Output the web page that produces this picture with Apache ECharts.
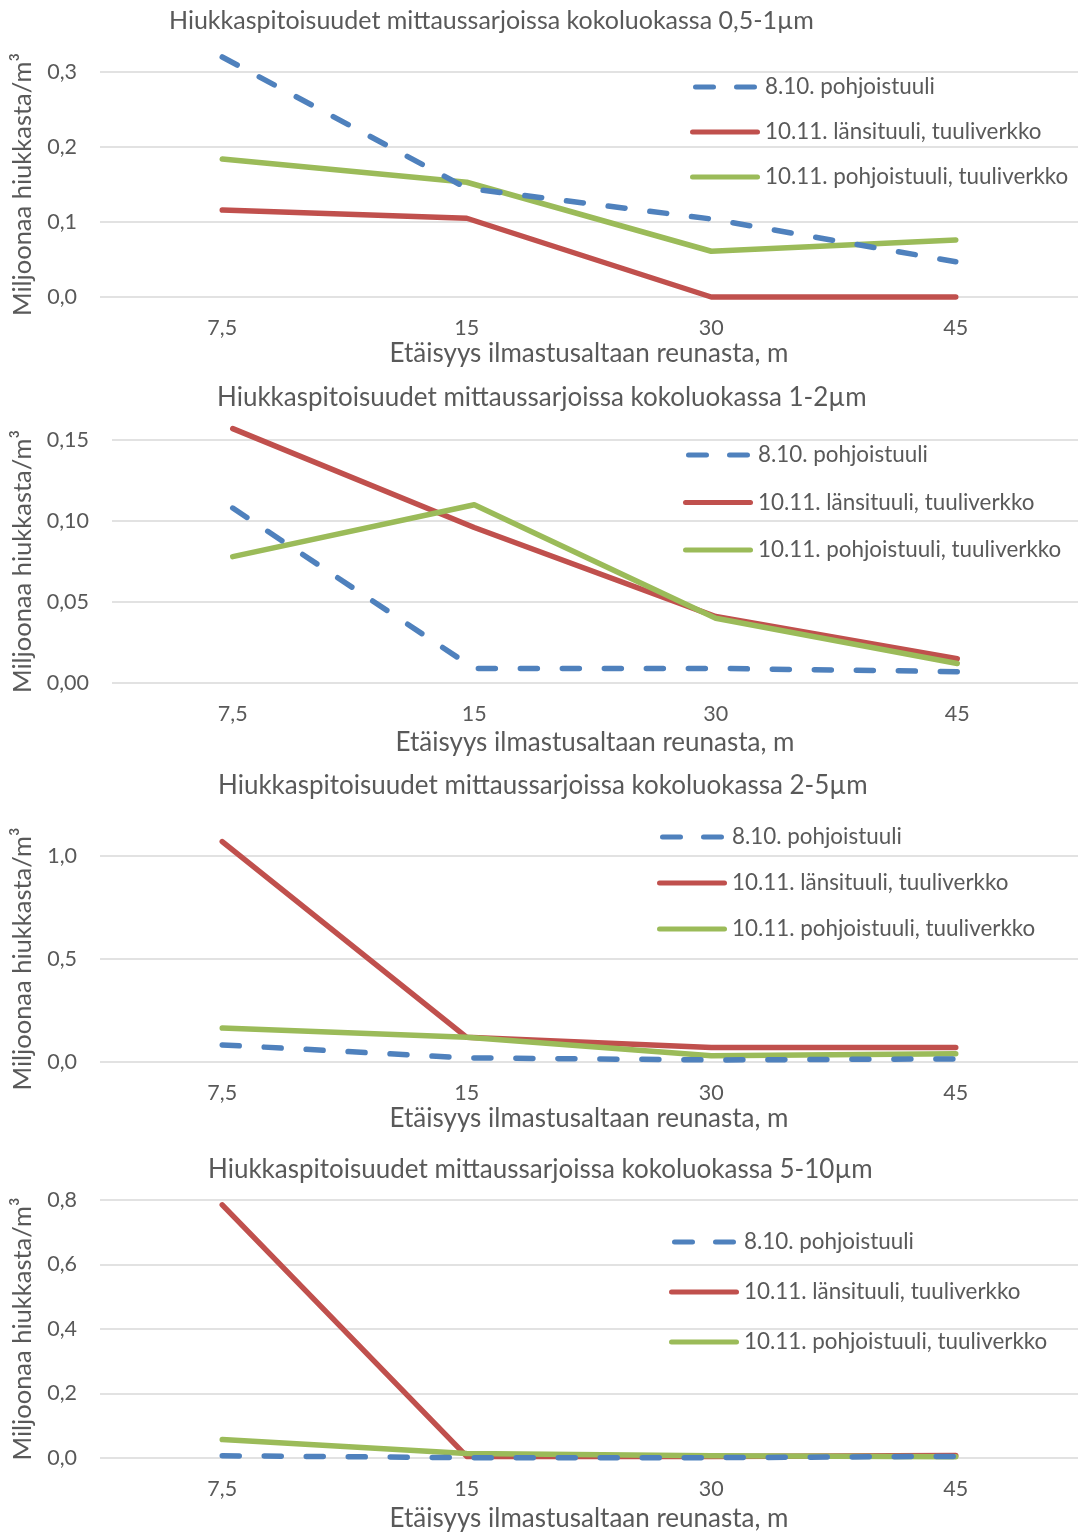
<!DOCTYPE html>
<html>
<head>
<meta charset="utf-8">
<script src="https://cdn.jsdelivr.net/npm/echarts@6/dist/echarts.min.js"></script>
<style>
html,body{margin:0;padding:0;background:#fff;}
#c{width:1081px;height:1533px;}
</style>
</head>
<body>
<div id="c"></div>
<script>
// ---- data ----
var categories = ['7,5', '15', '30', '45'];
var seriesNames = ['8.10. pohjoistuuli', '10.11. länsituuli, tuuliverkko', '10.11. pohjoistuuli, tuuliverkko'];
var titles = [
  'Hiukkaspitoisuudet mittaussarjoissa kokoluokassa 0,5-1µm',
  'Hiukkaspitoisuudet mittaussarjoissa kokoluokassa 1-2µm',
  'Hiukkaspitoisuudet mittaussarjoissa kokoluokassa 2-5µm',
  'Hiukkaspitoisuudet mittaussarjoissa kokoluokassa 5-10µm'
];
var yAxisName = 'Miljoonaa hiukkasta/m³';
var xAxisName = 'Etäisyys ilmastusaltaan reunasta, m';

// chart 1: 0,5-1 µm
var c1_north810 = [0.320, 0.145, 0.104, 0.047];
var c1_west1011 = [0.116, 0.105, 0.000, 0.000];
var c1_north1011 = [0.184, 0.153, 0.061, 0.076];
// chart 2: 1-2 µm
var c2_north810 = [0.108, 0.009, 0.009, 0.007];
var c2_west1011 = [0.157, 0.096, 0.041, 0.015];
var c2_north1011 = [0.078, 0.110, 0.040, 0.012];
// chart 3: 2-5 µm
var c3_north810 = [0.083, 0.020, 0.010, 0.015];
var c3_west1011 = [1.070, 0.120, 0.070, 0.070];
var c3_north1011 = [0.165, 0.120, 0.030, 0.040];
// chart 4: 5-10 µm
var c4_north810 = [0.007, 0.001, 0.001, 0.005];
var c4_west1011 = [0.785, 0.005, 0.005, 0.008];
var c4_north1011 = [0.057, 0.014, 0.007, 0.004];

var yMax = [0.3, 0.15, 1.0, 0.8];
var yInterval = [0.1, 0.05, 0.5, 0.2];
var yDecimals = [1, 2, 1, 1];

// ---- layout ----
var FONT = 'Lato, "Open Sans", sans-serif';
var TXT = '#595959';
var colors = ['#4f81bd', '#c0504d', '#9bbb59'];
var grids = [
  {left: 100, right: 3, top: 72, height: 225},
  {left: 112, right: 3, top: 440, height: 243},
  {left: 100, right: 3, top: 856, height: 206},
  {left: 100, right: 3, top: 1200, height: 259}
];
var titleLeft = [164, 212, 213, 203];
var titleTop = [3, 380, 768, 1152];
var titleSize = [25, 26, 26, 26];
var legendPos = [
  {left: 685, top: 70, gap: 21},
  {left: 678, top: 438, gap: 23.5},
  {left: 652, top: 820, gap: 22},
  {left: 664, top: 1225, gap: 26}
];
var yNameGap = [64, 76, 64, 64];
var xNameGap = [44, 47, 44, 48];

var dataSets = [
  [c1_north810, c1_west1011, c1_north1011],
  [c2_north810, c2_west1011, c2_north1011],
  [c3_north810, c3_west1011, c3_north1011],
  [c4_north810, c4_west1011, c4_north1011]
];

var ICON_SOLID = 'path://M2.5,0 L67.5,0 A2.5,2.5 0 0 1 67.5,5 L2.5,5 A2.5,2.5 0 0 1 2.5,0 Z';
var ICON_DASH = 'path://M2.5,0 L20.5,0 A2.5,2.5 0 0 1 20.5,5 L2.5,5 A2.5,2.5 0 0 1 2.5,0 Z ' +
                'M43.5,0 L61.5,0 A2.5,2.5 0 0 1 61.5,5 L43.5,5 A2.5,2.5 0 0 1 43.5,0 Z';

var option = {
  backgroundColor: '#fff',
  animation: false,
  title: [], grid: [], xAxis: [], yAxis: [], legend: [], series: []
};

for (var i = 0; i < 4; i++) {
  option.title.push({
    text: titles[i], left: titleLeft[i], top: titleTop[i],
    textStyle: {fontFamily: FONT, fontSize: titleSize[i], fontWeight: 'normal', color: TXT}
  });
  option.grid.push(grids[i]);
  option.xAxis.push({
    type: 'category', gridIndex: i, data: categories, boundaryGap: true,
    axisLine: {show: false}, axisTick: {show: false},
    axisLabel: {fontFamily: FONT, fontSize: 21.5, color: TXT, margin: 20},
    name: xAxisName, nameLocation: 'middle', nameGap: xNameGap[i],
    nameTextStyle: {fontFamily: FONT, fontSize: 26, color: TXT}
  });
  (function (d) {
    option.yAxis.push({
      type: 'value', gridIndex: i, min: 0, max: yMax[i], interval: yInterval[i],
      axisLine: {show: false}, axisTick: {show: false},
      splitLine: {lineStyle: {color: '#d9d9d9', width: 1.5}},
      axisLabel: {fontFamily: FONT, fontSize: 21.5, color: TXT, margin: 23,
        formatter: function (v) { return v.toFixed(d).replace('.', ','); }},
      name: yAxisName, nameLocation: 'middle', nameRotate: 90, nameGap: yNameGap[i],
      nameTextStyle: {fontFamily: FONT, fontSize: 25.5, color: TXT}
    });
  })(yDecimals[i]);
  option.legend.push({
    orient: 'vertical', left: legendPos[i].left, top: legendPos[i].top,
    itemWidth: 70, itemHeight: 5, itemGap: legendPos[i].gap,
    data: [
      {name: seriesNames[0], icon: ICON_DASH},
      {name: seriesNames[1], icon: ICON_SOLID},
      {name: seriesNames[2], icon: ICON_SOLID}
    ],
    textStyle: {fontFamily: FONT, fontSize: 22.4, lineHeight: 24, color: TXT}
  });
  for (var s = 0; s < 3; s++) {
    option.series.push({
      name: seriesNames[s], type: 'line',
      xAxisIndex: i, yAxisIndex: i,
      data: dataSets[i][s],
      symbol: 'none', clip: false,
      z: s === 0 ? 4 : (s === 1 ? 2 : 3),
      lineStyle: {
        color: colors[s], width: 5.5, cap: 'round', join: 'round',
        type: s === 0 ? [17, 25] : 'solid'
      },
      itemStyle: {color: colors[s]}
    });
  }
}

var chart = echarts.init(document.getElementById('c'), null, {renderer: 'canvas'});
chart.setOption(option);
</script>
</body>
</html>
